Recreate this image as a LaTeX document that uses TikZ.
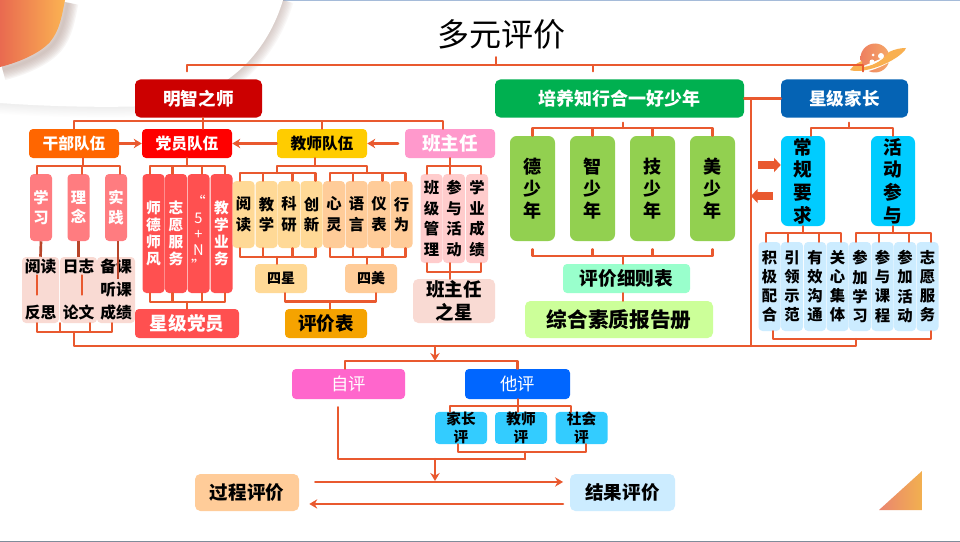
\documentclass[tikz,border=0pt]{standalone}
\usepackage{fontspec}
\setmainfont{Noto Sans CJK SC}
\usetikzlibrary{arrows.meta}
\newcommand{\pxfont}[2]{\fontsize{#1}{#2}\selectfont}
\definecolor{linkcol}{HTML}{E9592F}
\definecolor{darklink}{HTML}{B8452A}
\definecolor{mingcol}{HTML}{CC0000}
\definecolor{peicol}{HTML}{00B050}
\definecolor{jiacol}{HTML}{0563B4}
\definecolor{ganbucol}{HTML}{FF6600}
\definecolor{dangcol}{HTML}{FF0000}
\definecolor{jiaocol}{HTML}{FFCC00}
\definecolor{bancol}{HTML}{FF99CC}
\definecolor{rosecol}{HTML}{FF7C80}
\definecolor{redcol}{HTML}{FF5050}
\definecolor{paleredcol}{HTML}{F9DAD3}
\definecolor{palebancol}{HTML}{FFCCCC}
\definecolor{sandcol}{HTML}{FFD996}
\definecolor{peachcol}{HTML}{FFCC99}
\definecolor{ambercol}{HTML}{F5A300}
\definecolor{leafcol}{HTML}{92D050}
\definecolor{mintcol}{HTML}{99FFCC}
\definecolor{limecol}{HTML}{CCFF99}
\definecolor{cyancol}{HTML}{00CCFF}
\definecolor{icecol}{HTML}{CCECFF}
\definecolor{skycol}{HTML}{33CCFF}
\definecolor{zicol}{HTML}{FF66CC}
\definecolor{tacol}{HTML}{0066FF}
\definecolor{shadowcol}{HTML}{B8A09A}
\definecolor{toplinecol}{HTML}{A5BBD9}
\definecolor{botlinecol}{HTML}{7F8C9A}
\definecolor{blobleft}{HTML}{E96A50}
\definecolor{blobright}{HTML}{FBB352}
\definecolor{wedgeleft}{HTML}{EA8570}
\definecolor{wedgeright}{HTML}{F2B04F}
\definecolor{ringcol}{HTML}{F9B050}
\definecolor{planetleft}{HTML}{EE7F60}
\definecolor{planetright}{HTML}{F5A868}
\tikzset{
  tile/.style 2 args={rectangle, rounded corners=3pt, inner sep=0pt, align=center, minimum width=#1*0.75pt, minimum height=#2*0.75pt},
  head/.style={tile={127}{38}, rounded corners=4pt, text=white, font=\bfseries\pxfont{13.2}{16}},
  team/.style={tile={90}{29}, font=\bfseries\pxfont{11.8}{14}},
  narrow/.style={tile={22}{#1}, font=\bfseries\pxfont{11.5}{15.5}},
  dangtile/.style={narrow=119, fill=redcol, text=white, font=\bfseries\pxfont{11}{12.6}},
  star/.style={font=\bfseries\pxfont{13.9}{17.2}},
  tall/.style={tile={45}{105}, rounded corners=5pt, fill=leafcol, font=\bfseries\pxfont{13.5}{16.5}},
  plan/.style={tile={44}{90}, rounded corners=5pt, fill=cyancol, font=\bfseries\pxfont{14}{17}},
  duty/.style={tile={22}{89}, fill=icecol, font=\bfseries\pxfont{11.5}{14.3}},
  other/.style={tile={52}{30}, fill=skycol, font=\bfseries\pxfont{11}{13.5}},
  link/.style={draw=linkcol, line width=1.8pt, line join=round, line cap=round},
  go/.style={link, -{Stealth[length=6pt,width=7pt]}},
  fatarrow/.style={draw=linkcol, line width=6pt, -{Triangle[length=5pt,width=10.5pt]}},
  stem/.style={draw=darklink, line width=2pt},
}
\begin{document}
\begin{tikzpicture}[x=0.75pt,y=-0.75pt]
  \useasboundingbox (0,0) rectangle (960,542);
  \fill[white] (0,0) rectangle (960,542);
  \fill[toplinecol] (283,0) rectangle (960,1.2);
  \fill[botlinecol] (0,541) rectangle (960,542);

  \foreach \w in {2,4,6,8,10,12,14,16} {
    \draw[shadowcol, line width=\w pt, opacity=.08] (283,0) .. controls (268,50) and (228,100) .. (150,106);
    \draw[shadowcol, line width=\w pt, opacity=.02] (150,106) .. controls (100,108) and (40,106) .. (0,103);
  }
  \fill[white] (283,0) .. controls (268,50) and (228,100) .. (150,106) .. controls (100,108) and (40,106) .. (0,103) -- (0,0) -- cycle;
  \foreach \w in {2,4,6,8,10,12,14,16} {
    \draw[shadowcol, line width=\w pt, opacity=.1, xshift=2pt, yshift=-2pt] (65,0) .. controls (62,15) and (60,30) .. (50,42) .. controls (40,53) and (20,62) .. (0,67);
  }
  \shade[left color=blobleft, right color=blobright] (65,0) .. controls (62,15) and (60,30) .. (50,42) .. controls (40,53) and (20,62) .. (0,67) -- (0,0) -- cycle;
  \shade[left color=wedgeleft, right color=wedgeright] (879,510) -- (922,471) -- (922,510) -- cycle;
  \shade[left color=planetleft, right color=planetright] (875,58) circle (14.5);
  \fill[white] (848,72) .. controls (870,70) and (895,58) .. (908,49) .. controls (895,52) and (870,64) .. (848,72) -- cycle;
  \draw[white, line width=1.5pt] (856,72) .. controls (875,71) and (892,60) .. (900,54);
  \fill[ringcol] (850,70) .. controls (854,64) and (860,62) .. (862,61) .. controls (862,64) and (862,66) .. (863,67) .. controls (875,66) and (885,58) .. (889,52) .. controls (895,49) and (901,48) .. (906,48) .. controls (905,53) and (885,68) .. (860,71) .. controls (856,71) and (852,71) .. (850,70) -- cycle;
  \fill[white] (881,56) circle (3) (872,62) circle (2.5) (873,55) circle (1.5);

  \node[tile={135}{36}, font=\pxfont{24}{28}] (duoyuan) at (501,34) {多元评价};

  \node[head, fill=mingcol] (mingzhi) at (198.5,98.5) {明智之师};
  \node[tile={249}{38}, rounded corners=4pt, fill=peicol, text=white, font=\bfseries\pxfont{13.5}{16}] (peiyang) at (619.5,98.5) {培养知行合一好少年};
  \node[head, fill=jiacol] (xingji) at (844.5,98.5) {星级家长};

  \node[team, fill=ganbucol, text=white] (ganbu) at (74,143.5) {干部队伍};
  \node[team, fill=dangcol, text=white] (dangyuan) at (187,143.5) {党员队伍};
  \node[team, fill=jiaocol] (jiaoshi) at (322,143.5) {教师队伍};
  \node[team, fill=bancol, text=white, font=\bfseries\pxfont{13.9}{16}] (banzhuren) at (450,143.5) {班主任};

  \node[narrow=67, fill=rosecol, text=white, font=\bfseries\pxfont{11.5}{14.5}] (xuexi) at (41,207.5) {学\\习};
  \node[narrow=67, fill=rosecol, text=white, font=\bfseries\pxfont{11.5}{14.5}] (linian) at (78.5,207.5) {理\\念};
  \node[narrow=67, fill=rosecol, text=white, font=\bfseries\pxfont{11.5}{14.5}] (shijian) at (116,207.5) {实\\践};
  \node[tile={37}{66}, fill=paleredcol, font=\bfseries\pxfont{11.8}{34.5}] (yuedu) at (40.5,290) {阅读\\反思};
  \node[tile={37}{66}, fill=paleredcol, font=\bfseries\pxfont{11.8}{34.5}] (rizhi) at (78.5,290) {日志\\论文};
  \node[tile={38}{66}, fill=paleredcol, font=\bfseries\pxfont{11.8}{17.2}] (beike) at (116,290) {备课\\听课\\成绩};

  \node[dangtile] (shide) at (153.5,233.5) {师\\德\\师\\风};
  \node[dangtile] (zhiyuan) at (176,233.5) {志\\愿\\服\\务};
  \node[dangtile, font=\pxfont{11}{12}] (wujia) at (198.5,233.5) {“\\5\\+\\N\\”};
  \node[dangtile] (jiaoxue) at (221.5,233.5) {教\\学\\业\\务};
  \node[tile={104}{29}, fill=redcol, text=white, star] (xingdang) at (187,323.5) {星级党员};

  \node[narrow=67, fill=sandcol] (yuedub) at (243.5,214.5) {阅\\读};
  \node[narrow=67, fill=sandcol] (jiaoxueb) at (266.5,214.5) {教\\学};
  \node[narrow=67, fill=sandcol] (keyan) at (289,214.5) {科\\研};
  \node[narrow=67, fill=sandcol] (chuangxin) at (311.5,214.5) {创\\新};
  \node[narrow=67, fill=peachcol] (xinling) at (334,214.5) {心\\灵};
  \node[narrow=67, fill=peachcol] (yuyan) at (356.5,214.5) {语\\言};
  \node[narrow=67, fill=peachcol] (yibiao) at (379,214.5) {仪\\表};
  \node[narrow=67, fill=peachcol] (xingwei) at (401.5,214.5) {行\\为};
  \node[tile={52}{29}, fill=sandcol, font=\bfseries\pxfont{10.5}{14}] (sixing) at (281,278.5) {四星};
  \node[tile={52}{29}, fill=peachcol, font=\bfseries\pxfont{10.5}{14}] (simei) at (371,278.5) {四美};
  \node[tile={82}{29}, fill=ambercol, star] (pingjia) at (326,323.5) {评价表};

  \node[narrow=89, fill=palebancol] (banji) at (431.5,218.5) {班\\级\\管\\理};
  \node[narrow=89, fill=palebancol] (canyu) at (454,218.5) {参\\与\\活\\动};
  \node[narrow=89, fill=palebancol] (xueye) at (477,218.5) {学\\业\\成\\绩};
  \node[tile={82}{44}, rounded corners=4pt, fill=paleredcol, star] (banxing) at (454,301) {班主任\\之星};

  \node[tall] (deshao) at (532.5,188.5) {德\\少\\年};
  \node[tall] (zhishao) at (592.5,188.5) {智\\少\\年};
  \node[tall] (jishao) at (652.5,188.5) {技\\少\\年};
  \node[tall] (meishao) at (712.5,188.5) {美\\少\\年};
  \node[tile={127}{29}, fill=mintcol, font=\bfseries\pxfont{14}{16}] (xize) at (626.5,278.5) {评价细则表};
  \node[tile={188}{37}, rounded corners=4pt, fill=limecol, font=\bfseries\pxfont{15.5}{18}] (zonghe) at (619,319.5) {综合素质报告册};

  \node[plan] (changgui) at (803,181) {常\\规\\要\\求};
  \node[plan] (huodong) at (893,181) {活\\动\\参\\与};
  \node[duty] (jiji) at (769.5,286.5) {积\\极\\配\\合};
  \node[duty] (yinling) at (792,286.5) {引\\领\\示\\范};
  \node[duty] (youxiao) at (815,286.5) {有\\效\\沟\\通};
  \node[duty] (guanxin) at (837.5,286.5) {关\\心\\集\\体};
  \node[duty] (canjia) at (860,286.5) {参\\加\\学\\习};
  \node[duty] (canke) at (882.5,286.5) {参\\与\\课\\程};
  \node[duty] (canhuo) at (905,286.5) {参\\加\\活\\动};
  \node[duty] (zhiyuanb) at (927.5,286.5) {志\\愿\\服\\务};

  \node[tile={113}{30}, fill=zicol, text=white, font=\pxfont{13}{16}] (ziping) at (348.5,384) {自评};
  \node[tile={105}{30}, fill=tacol, text=white, font=\pxfont{13}{16}] (taping) at (517.5,384) {他评};
  \node[other] (jiazhang) at (461,428) {家长\\评};
  \node[other] (jiaoping) at (521,428) {教师\\评};
  \node[other] (shehui) at (581.5,428) {社会\\评};
  \node[tile={104}{37}, rounded corners=4pt, fill=peachcol, star] (guocheng) at (247,492.5) {过程评价};
  \node[tile={105}{37}, rounded corners=4pt, fill=icecol, star] (jieguo) at (622.5,492.5) {结果评价};

  \coordinate (topbar) at (496,65);
  \coordinate (mingbar) at (203,121);
  \coordinate (ganbar) at (83,166);
  \coordinate (dangbar) at (187,166);
  \coordinate (jiaobar) at (315,166);
  \coordinate (banbar) at (450,166);
  \coordinate (xingbar) at (277,173);
  \coordinate (meibar) at (367,173);
  \coordinate (ganbot) at (74,332);
  \coordinate (dangbot) at (187,302);
  \coordinate (xingbot) at (277,257);
  \coordinate (meibot) at (367,257);
  \coordinate (pingbar) at (330,301.5);
  \coordinate (banbot) at (450,272);
  \coordinate (peibar) at (623,128);
  \coordinate (peibot) at (623,256);
  \coordinate (jiabar) at (849,128);
  \coordinate (changbar) at (803,233);
  \coordinate (huobar) at (893,233);
  \coordinate (jiabot) at (856,339);
  \coordinate (mainbar) at (435,346);
  \coordinate (sidebar) at (751,346);
  \coordinate (evalbar) at (435,361);
  \coordinate (tabar) at (518,406);
  \coordinate (tabot) at (525,452);
  \coordinate (hebar) at (525,459);
  \coordinate (hemid) at (435,459);
  \coordinate (heend) at (435,481);
  \coordinate (fatin) at (758,165);
  \coordinate (fatout) at (773,196);

  \begin{scope}[link]
    \draw ([yshift=-3.75pt,xshift=-3.75pt]duoyuan.south) -- (topbar);
    \draw ([xshift=-8.6pt,yshift=6pt]mingzhi.north) |- (topbar);
    \draw ([xshift=-19.9pt,yshift=6pt]peiyang.north) |- (topbar);
    \draw ([xshift=13.9pt,yshift=6pt]xingji.north) |- (topbar);

    \draw (mingzhi.south -| mingbar) -- (mingbar);
    \draw (ganbu.north) |- (mingbar);
    \draw (dangyuan.north -| mingbar) -- (mingbar);
    \draw (jiaoshi.north) |- (mingbar);
    \draw ([xshift=-5.25pt]banzhuren.north) |- (mingbar);

    \draw (ganbu.south -| ganbar) -- (ganbar);
    \draw ([xshift=-3pt]xuexi.north) |- (ganbar);
    \draw ([xshift=2.6pt]linian.north) |- (ganbar);
    \draw ([xshift=3pt]shijian.north) |- (ganbar);
    \draw ([xshift=-14pt]rizhi.south) |- (ganbot);
    \draw ([xshift=-2.6pt]yuedu.south) |- (ganbot);
    \draw ([xshift=8.6pt]rizhi.south) |- (ganbot);
    \draw ([xshift=-3pt]beike.south) |- (ganbot);
    \draw ([xshift=-2.85pt,yshift=-14pt]yuedu.north) -- ([xshift=-2.85pt,yshift=21.5pt]yuedu.south);
    \draw ([xshift=2.6pt,yshift=-14pt]rizhi.north) -- ([xshift=2.6pt,yshift=21.5pt]rizhi.south);

    \draw (dangyuan.south) -- (dangbar);
    \draw ([xshift=-2.5pt]shide.north) |- (dangbar);
    \draw ([xshift=-2.5pt]zhiyuan.north) |- (dangbar);
    \draw ([xshift=2.5pt]wujia.north) |- (dangbar);
    \draw ([xshift=2.5pt]jiaoxue.north) |- (dangbar);
    \draw ([xshift=-2.5pt]shide.south) |- (dangbot);
    \draw ([xshift=-2.5pt]zhiyuan.south) |- (dangbot);
    \draw ([xshift=2.5pt]wujia.south) |- (dangbot);
    \draw ([xshift=2.5pt]jiaoxue.south) |- (dangbot);
    \draw (xingdang.north) -- (dangbot);

    \draw (jiaoshi.south -| jiaobar) -- (jiaobar);
    \draw (xingbar) |- (jiaobar);
    \draw (meibar) |- (jiaobar);
    \draw ([xshift=-2.6pt]yuedub.north) |- (xingbar);
    \draw ([xshift=-2.6pt]jiaoxueb.north) |- (xingbar);
    \draw ([xshift=2.6pt]keyan.north) |- (xingbar);
    \draw ([xshift=3pt]chuangxin.north) |- (xingbar);
    \draw ([xshift=-3pt]xinling.north) |- (meibar);
    \draw ([xshift=-2.6pt]yuyan.north) |- (meibar);
    \draw ([xshift=2.6pt]yibiao.north) |- (meibar);
    \draw ([xshift=3pt]xingwei.north) |- (meibar);
    \draw ([xshift=-2.6pt]yuedub.south) |- (xingbot);
    \draw ([xshift=-2.6pt]jiaoxueb.south) |- (xingbot);
    \draw ([xshift=2.6pt]keyan.south) |- (xingbot);
    \draw ([xshift=3pt]chuangxin.south) |- (xingbot);
    \draw ([xshift=-3pt]xinling.south) |- (meibot);
    \draw ([xshift=-2.6pt]yuyan.south) |- (meibot);
    \draw ([xshift=2.6pt]yibiao.south) |- (meibot);
    \draw ([xshift=3pt]xingwei.south) |- (meibot);
    \draw (sixing.north -| xingbot) -- (xingbot);
    \draw (simei.north -| meibot) -- (meibot);
    \draw ([xshift=3pt]sixing.south) |- (pingbar);
    \draw ([xshift=3.75pt]simei.south) |- (pingbar);
    \draw (pingjia.north -| pingbar) -- (pingbar);

    \draw (banzhuren.south) -- (banbar);
    \draw ([xshift=-3.4pt]banji.north) |- (banbar);
    \draw ([xshift=-3pt]canyu.north) |- (banbar);
    \draw ([xshift=3pt]xueye.north) |- (banbar);
    \draw ([xshift=-3.4pt]banji.south) |- (banbot);
    \draw ([xshift=-3pt]canyu.south) |- (banbot);
    \draw ([xshift=3pt]xueye.south) |- (banbot);
    \draw (banxing.north -| banbot) -- (banbot);

    \draw ([yshift=-3.75pt]peiyang.south -| peibar) -- (peibar);
    \draw (deshao.north) |- (peibar);
    \draw (zhishao.north) |- (peibar);
    \draw (jishao.north) |- (peibar);
    \draw (meishao.north) |- (peibar);
    \draw ([yshift=-6pt]deshao.south) |- (peibot);
    \draw ([yshift=-6pt]zhishao.south) |- (peibot);
    \draw ([yshift=-6pt]jishao.south) |- (peibot);
    \draw ([yshift=-6pt]meishao.south) |- (peibot);
    \draw (xize.north -| peibot) -- (peibot);
    \draw (xize.south -| peibot) -- (zonghe.north -| peibot);

    \draw ([yshift=-3.75pt]xingji.south -| jiabar) -- (jiabar);
    \draw ([xshift=6pt]changgui.north) |- (jiabar);
    \draw (huodong.north) |- (jiabar);
    \draw (changgui.south) -- (changbar);
    \draw ([xshift=-2.6pt]jiji.north) |- (changbar);
    \draw ([xshift=-3pt]yinling.north) |- (changbar);
    \draw ([xshift=3pt]youxiao.north) |- (changbar);
    \draw ([xshift=2.6pt]guanxin.north) |- (changbar);
    \draw (huodong.south) -- (huobar);
    \draw ([xshift=-3pt]canjia.north) |- (huobar);
    \draw ([xshift=-2.6pt]canke.north) |- (huobar);
    \draw ([xshift=3pt]canhuo.north) |- (huobar);
    \draw ([xshift=2.6pt]zhiyuanb.north) |- (huobar);
    \draw ([xshift=2.6pt]jiji.south) |- (jiabot);
    \draw ([xshift=2.6pt]zhiyuanb.south) |- (jiabot);

    \draw (ganbot) |- (mainbar);
    \draw (jiabot) |- (mainbar);
    \draw (peiyang.east) -- (xingji.west);
    \draw (peiyang.east -| sidebar) -- (sidebar);

    \draw ([xshift=-2.6pt]ziping.north) |- (evalbar);
    \draw (taping.north) |- (evalbar);
    \draw (taping.south -| tabar) -- (tabar);
    \draw ([xshift=-8.25pt]jiazhang.north) |- (tabar);
    \draw ([xshift=-2.25pt]jiaoping.north) |- (tabar);
    \draw ([xshift=-7.9pt]shehui.north) |- (tabar);
    \draw ([xshift=-2.25pt]jiazhang.south) |- (tabot);
    \draw ([xshift=3.4pt]shehui.south) |- (tabot);
    \draw (tabot) -- (hebar);
    \draw ([xshift=-8pt,yshift=-6pt]ziping.south) |- (hebar);
  \end{scope}

  \draw[stem] (xuexi.south) -- (yuedu.north);
  \draw[stem] (linian.south) -- (rizhi.north);
  \draw[stem] ([xshift=1.5pt]shijian.south) -- ([xshift=1.5pt,yshift=-17pt]beike.north);

  \draw[go] (ganbu.east) -- (dangyuan.west);
  \draw[go] (jiaoshi.west) -- (dangyuan.east);
  \draw[go, shorten <=5pt] (banzhuren.west) -- (jiaoshi.east);
  \draw[go] (mainbar) -- (evalbar);
  \draw[go] (hemid) -- (heend);
  \draw[go, shorten <=12pt, shorten >=5pt] ([yshift=7.9pt]guocheng.east) -- ([yshift=7.9pt]jieguo.west);
  \draw[go, shorten <=5pt, shorten >=7.5pt] ([yshift=-8.6pt]jieguo.west) -- ([yshift=-8.6pt]guocheng.east);
  \draw[fatarrow] (fatin) -- (fatin -| changgui.west);
  \draw[fatarrow] (fatout) -- (fatout -| sidebar);
\end{tikzpicture}
\end{document}
